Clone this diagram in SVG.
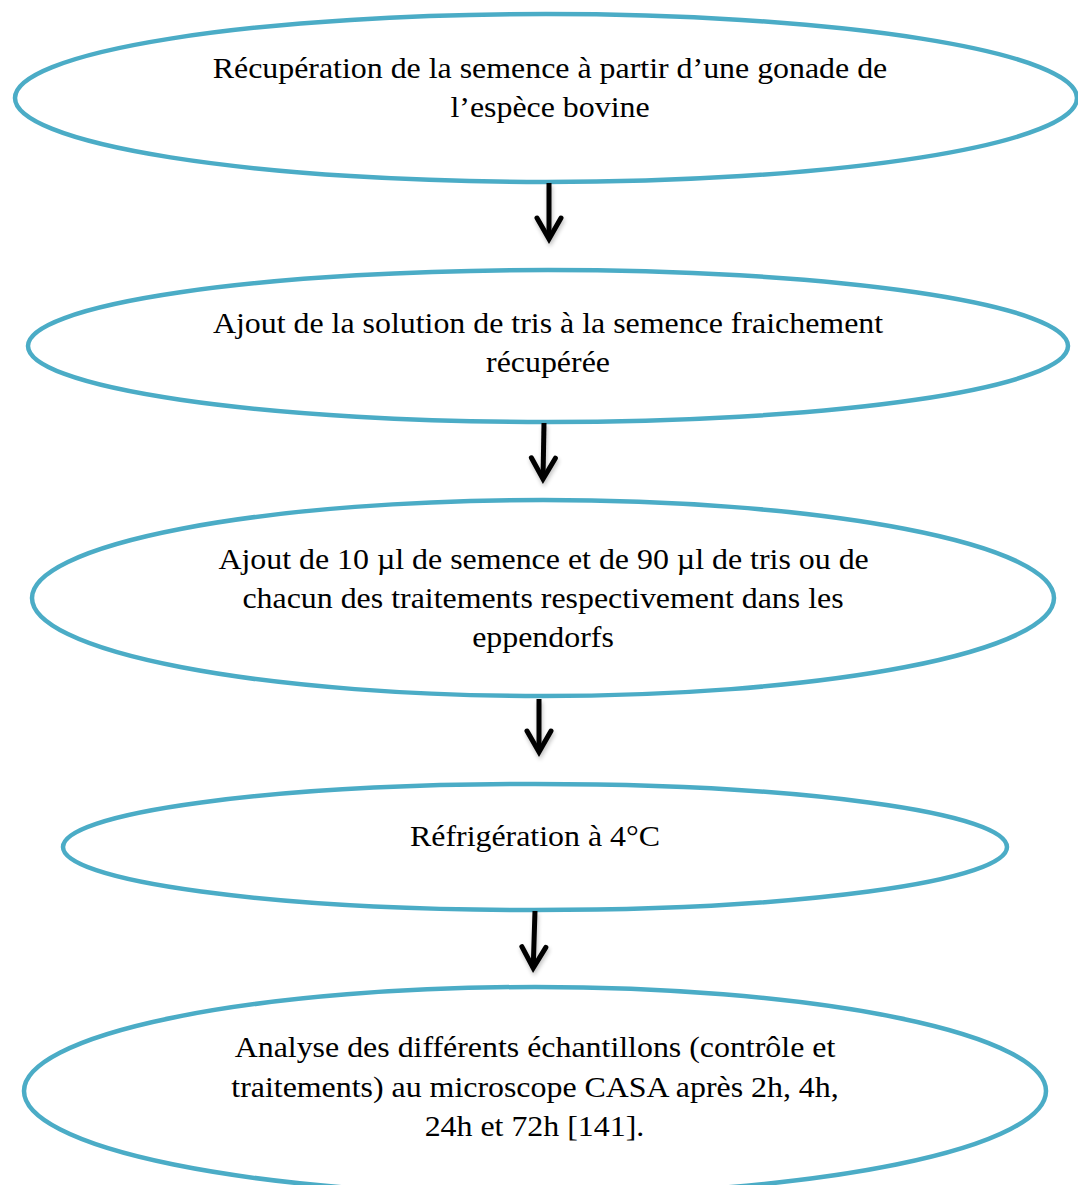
<svg xmlns="http://www.w3.org/2000/svg" width="1078" height="1185" viewBox="0 0 1078 1185">
  <style>
    .step ellipse { fill: #ffffff; stroke: #4BACC6; stroke-width: 4.5; }
    .step text { font-family: 'Liberation Serif', 'Times New Roman', Times, serif; font-size: 29px; fill: #000000; text-anchor: middle; }
    .link { fill: none; stroke: #000000; stroke-width: 5; stroke-linecap: butt; marker-end: url(#chevron); }
  </style>
  <defs>
    <marker id="chevron" markerUnits="userSpaceOnUse" viewBox="-28 -16 32 32" refX="0" refY="0" markerWidth="32" markerHeight="32" orient="auto" overflow="visible">
      <path d="M-21,-12 L0,0 L-21,12" fill="none" stroke="#000000" stroke-width="5" stroke-linejoin="miter" stroke-linecap="round"/>
    </marker>
    <filter id="soft" filterUnits="userSpaceOnUse" x="0" y="0" width="1078" height="1185">
      <feGaussianBlur in="SourceAlpha" stdDeviation="2"/>
      <feOffset dx="1" dy="3"/>
      <feComponentTransfer><feFuncA type="linear" slope="0.25"/></feComponentTransfer>
      <feMerge><feMergeNode/><feMergeNode in="SourceGraphic"/></feMerge>
    </filter>
  </defs>

  <rect x="0" y="0" width="1078" height="1185" fill="#ffffff"/>

  <!-- labels are set in a slightly widened serif: each label group is centred on the node and stretched horizontally -->
  <g id="step1" class="step">
    <ellipse cx="546" cy="98" rx="531" ry="84"/>
    <g transform="translate(550 0) scale(1.1 1)">
      <text x="0" y="78">Récupération de la semence à partir d’une gonade de</text>
      <text x="0" y="117">l’espèce bovine</text>
    </g>
  </g>

  <g id="step2" class="step">
    <ellipse cx="548" cy="346" rx="520" ry="76"/>
    <g transform="translate(548 0) scale(1.1 1)">
      <text x="0" y="333">Ajout de la solution de tris à la semence fraichement</text>
      <text x="0" y="372">récupérée</text>
    </g>
  </g>

  <g id="step3" class="step">
    <ellipse cx="543" cy="598" rx="511" ry="98"/>
    <g transform="translate(543 0) scale(1.1 1)">
      <text x="0.5" y="569">Ajout de 10 µl de semence et de 90 µl de tris ou de</text>
      <text x="0" y="608">chacun des traitements respectivement dans les</text>
      <text x="0" y="647">eppendorfs</text>
    </g>
  </g>

  <g id="step4" class="step">
    <ellipse cx="535" cy="847" rx="472" ry="63"/>
    <g transform="translate(535 0) scale(1.1 1)">
      <text x="0" y="846">Réfrigération à 4°C</text>
    </g>
  </g>

  <g id="step5" class="step">
    <ellipse cx="535" cy="1091" rx="511" ry="104"/>
    <g transform="translate(535 0) scale(1.1 1)">
      <text x="0" y="1057">Analyse des différents échantillons (contrôle et</text>
      <text x="0" y="1097">traitements) au microscope CASA après 2h, 4h,</text>
      <text x="-0.5" y="1136">24h et 72h [141].</text>
    </g>
  </g>

  <g id="connectors" filter="url(#soft)">
    <path class="link" d="M549,183 L549,239"/>
    <path class="link" d="M544,423 L543,479"/>
    <path class="link" d="M539,699 L539,752"/>
    <path class="link" d="M535,911 L533.2,968"/>
  </g>
</svg>
